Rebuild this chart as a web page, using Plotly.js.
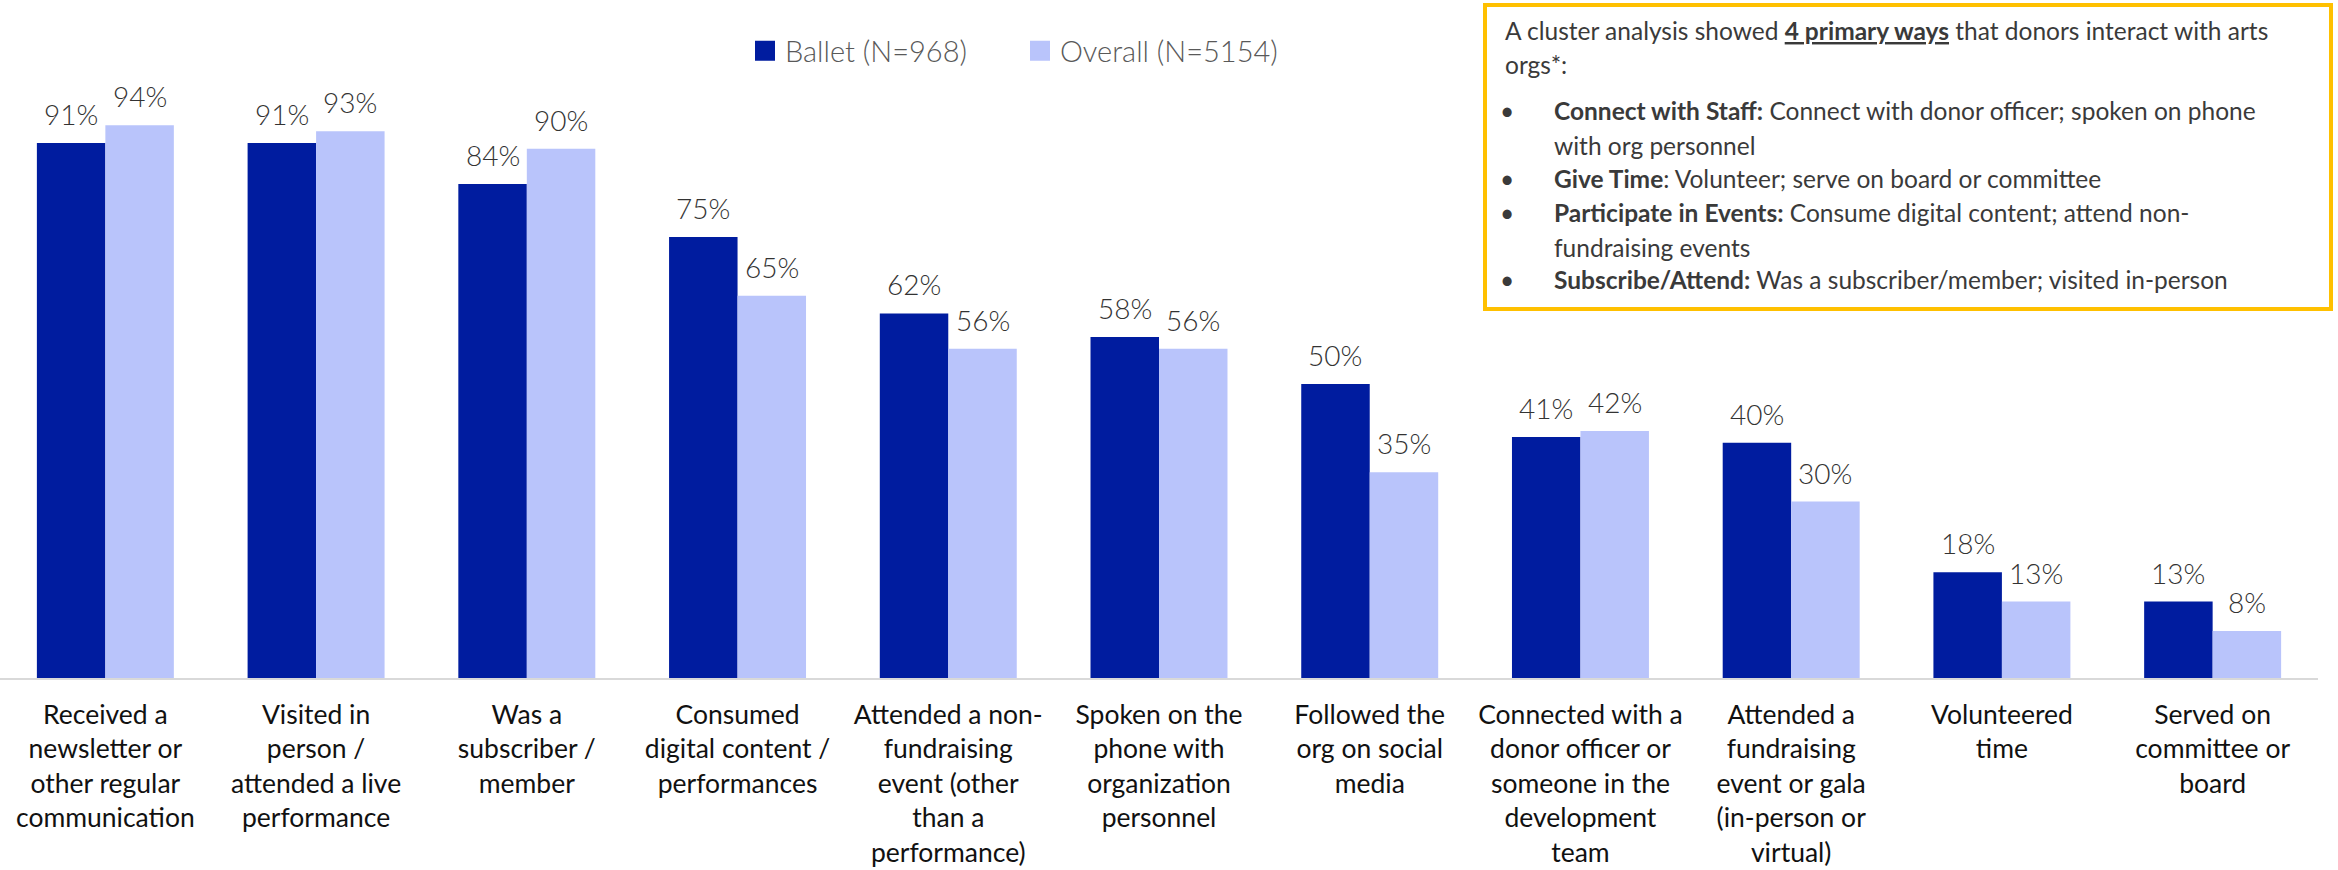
<!DOCTYPE html>
<html>
<head>
<meta charset="utf-8">
<script src="https://cdn.plot.ly/plotly-3.0.1.min.js"></script>
<style>
  html, body { margin: 0; padding: 0; background: #ffffff; }
  #chart { width: 2338px; height: 870px; }
</style>
</head>
<body>
<div id="chart"></div>
<script>
// ---------- data ----------
const categories = [
  'Received a<br>newsletter or<br>other regular<br>communication',
  'Visited in<br>person /<br>attended a live<br>performance',
  'Was a<br>subscriber /<br>member',
  'Consumed<br>digital content /<br>performances',
  'Attended a non-<br>fundraising<br>event (other<br>than a<br>performance)',
  'Spoken on the<br>phone with<br>organization<br>personnel',
  'Followed the<br>org on social<br>media',
  'Connected with a<br>donor officer or<br>someone in the<br>development<br>team',
  'Attended a<br>fundraising<br>event or gala<br>(in-person or<br>virtual)',
  'Volunteered<br>time',
  'Served on<br>committee or<br>board'
];
const ballet  = [91, 91, 84, 75, 62, 58, 50, 41, 40, 18, 13];
const overall = [94, 93, 90, 65, 56, 56, 35, 42, 30, 13, 8];
const seriesNames = ['Ballet (N=968)', 'Overall (N=5154)'];

const noteLines = [
  'A cluster analysis showed <b><u>4 primary ways</u></b> that donors interact with arts',
  'orgs*:',
  '<b>Connect with Staff:</b> Connect with donor officer; spoken on phone',
  'with org personnel',
  '<b>Give Time</b>: Volunteer; serve on board or committee',
  '<b>Participate in Events:</b> Consume digital content; attend non-',
  'fundraising events',
  '<b>Subscribe/Attend:</b> Was a subscriber/member; visited in-person'
];
// 0 = plain paragraph line, 1 = bullet line, 2 = continuation of bullet
const noteKinds = [0, 0, 1, 2, 1, 1, 2, 1];

// ---------- styling / layout ----------
const W = 2338, H = 870;
const M = { l: 0, r: 20, t: 90, b: 192 };
const plotW = W - M.l - M.r, plotH = H - M.t - M.b;
const px2x = px => (px - M.l) / plotW;
const py2y = py => (H - M.b - py) / plotH;

const colBallet = '#001c9f';
const colOverall = '#b9c4fb';
const FONT = 'Lato, "Noto Sans", sans-serif';

const barWidthFrac = 0.325; // per-trace bar width as fraction of category (bargap .35)

const traces = [
  { type: 'bar', name: seriesNames[0], x: categories, y: ballet,
    marker: { color: colBallet }, hoverinfo: 'skip', showlegend: false },
  { type: 'bar', name: seriesNames[1], x: categories, y: overall,
    marker: { color: colOverall }, hoverinfo: 'skip', showlegend: false },
  // legend keys (square swatches, same colours as the bars)
  { type: 'scatter', mode: 'markers', name: seriesNames[0], x: [null], y: [null],
    marker: { symbol: 'square', size: 16, color: colBallet, line: { color: colBallet, width: 4 } },
    hoverinfo: 'skip' },
  { type: 'scatter', mode: 'markers', name: seriesNames[1], x: [null], y: [null],
    marker: { symbol: 'square', size: 16, color: colOverall, line: { color: colOverall, width: 4 } },
    hoverinfo: 'skip' }
];

const annotations = [];
// value labels above each bar (positioned through the axes' own scales)
[ballet, overall].forEach((vals, s) => {
  vals.forEach((v, i) => {
    annotations.push({
      xref: 'x', yref: 'y',
      x: i + (s === 0 ? -1 : 1) * barWidthFrac / 2,
      y: v,
      text: v + '%',
      showarrow: false,
      xanchor: 'center', yanchor: 'bottom',
      yshift: 10,
      font: { family: FONT, size: 28, color: '#333333', weight: 300 }
    });
  });
});

// note box text
const noteBaselines = [38, 72, 118, 153, 186, 220, 255, 287];
const noteFontSize = 24.5;
noteLines.forEach((t, k) => {
  const xLeft = noteKinds[k] === 0 ? 1503 : 1552;
  const yc = noteBaselines[k] - noteFontSize * 0.3;
  annotations.push({
    xref: 'paper', yref: 'paper',
    x: px2x(xLeft), y: py2y(yc),
    xanchor: 'left', yanchor: 'middle',
    text: t, showarrow: false, align: 'left',
    font: { family: FONT, size: noteFontSize, color: '#3a3a3a' }
  });
  if (noteKinds[k] === 1) {
    annotations.push({
      xref: 'paper', yref: 'paper',
      x: px2x(1498), y: py2y(yc),
      xanchor: 'left', yanchor: 'middle',
      text: '•', showarrow: false,
      font: { family: FONT, size: noteFontSize, color: '#3a3a3a' }
    });
  }
});

const layout = {
  width: W, height: H,
  margin: M,
  paper_bgcolor: '#ffffff', plot_bgcolor: '#ffffff',
  barmode: 'group', bargap: 0.35, bargroupgap: 0,
  font: { family: FONT, color: '#111111' },
  showlegend: true,
  legend: {
    orientation: 'h',
    x: px2x(745), xanchor: 'left',
    y: py2y(51), yanchor: 'middle',
    font: { family: FONT, size: 29, color: '#595959', weight: 300 },
    entrywidth: 230, entrywidthmode: 'pixels',
    bgcolor: 'rgba(0,0,0,0)'
  },
  xaxis: {
    type: 'category',
    showline: true, linecolor: '#d9d9d9', linewidth: 2,
    ticks: '', showgrid: false, zeroline: false,
    tickfont: { family: FONT, size: 26.5, color: '#111111' },
    ticklabelstandoff: 12,
    automargin: false, fixedrange: true
  },
  yaxis: {
    range: [0, 100], visible: false, showgrid: false, zeroline: false,
    fixedrange: true
  },
  shapes: [{
    type: 'rect', xref: 'paper', yref: 'paper',
    x0: px2x(1485), x1: px2x(2331),
    y0: py2y(309), y1: py2y(5),
    line: { color: '#ffc000', width: 4 },
    fillcolor: '#ffffff', layer: 'above'
  }],
  annotations: annotations
};

Plotly.newPlot('chart', traces, layout, { displayModeBar: false, staticPlot: true });
</script>
</body>
</html>
